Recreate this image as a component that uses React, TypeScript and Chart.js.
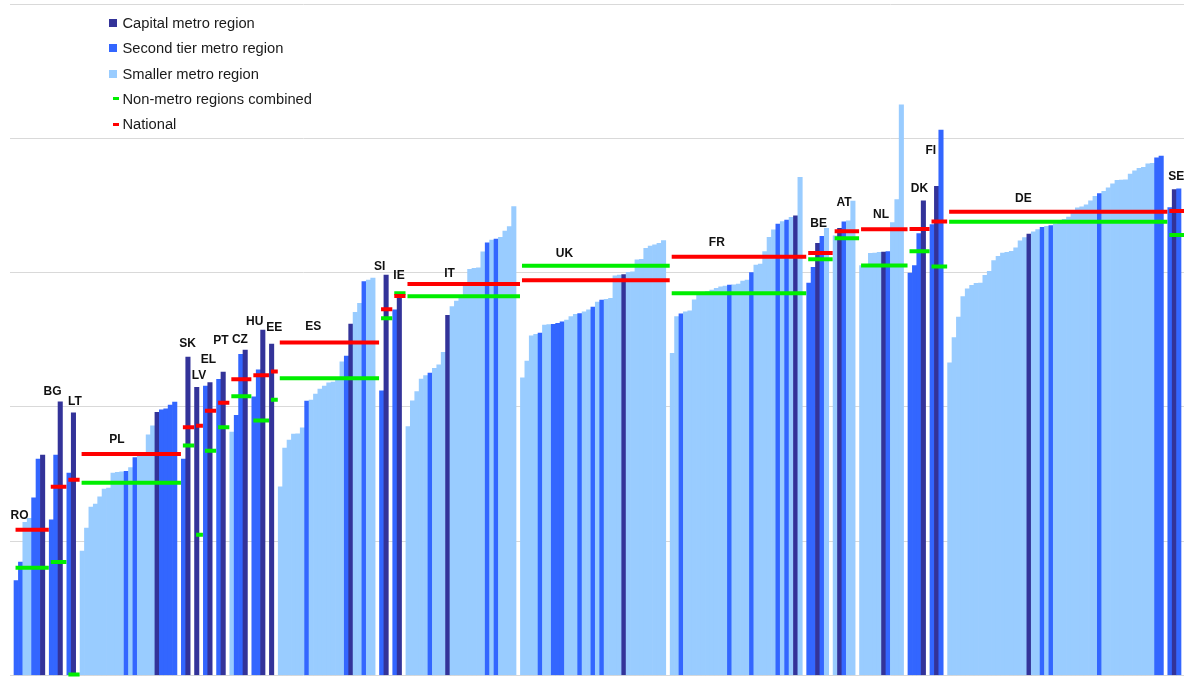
import React, { useEffect, useRef } from "react";
import { Chart, registerables } from "chart.js";

Chart.register(...registerables);

// ---- Data -------------------------------------------------------------
const countries = ["RO", "BG", "LT", "PL", "SK", "LV", "EL", "PT", "CZ", "HU", "EE", "ES", "SI", "IE", "IT", "UK", "FR", "BE", "AT", "NL", "DK", "FI", "DE", "SE"];

// metro region values per country (C = capital, S = second tier, M = smaller metro)
const RO = [35.3, 42.2, 57.0, 58.5, 66.1, 80.6, 82.1];
const RO_T = "SSMMSSC";
const BG = [57.9, 82.1, 101.9];
const BG_T = "SSC";
const LT = [75.4, 97.8];
const LT_T = "SC";
const PL = [46.3, 54.9, 62.7, 63.8, 66.5, 69.4, 69.8, 75.4, 75.6, 75.8, 76.0, 77.4, 81.1, 82.5, 83.0, 89.6, 93.0, 98.0, 98.9, 99.3, 100.7, 101.8];
const PL_T = "MMMMMMMMMMSMSMMMMCSSSS";
const SK = [80.6, 118.6];
const SK_T = "SC";
const LV = [107.3];
const LV_T = "C";
const EL = [107.8, 109.1];
const EL_T = "SC";
const PT = [110.3, 113.0];
const PT_T = "SC";
const CZ = [90.6, 96.9, 119.6, 121.2];
const CZ_T = "MSSC";
const HU = [103.8, 113.8, 128.7];
const HU_T = "SSC";
const EE = [123.4];
const EE_T = "C";
const ES = [70.2, 84.7, 87.7, 89.9, 90.0, 92.2, 102.2, 102.6, 104.8, 106.7, 107.8, 109.0, 109.3, 110.1, 116.8, 119.0, 130.9, 135.3, 138.6, 146.7, 147.3, 148.0];
const ES_T = "MMMMMMSMMMMMMMMSCMMSMM";
const SI = [106.0, 149.2];
const SI_T = "SC";
const IE = [136.2, 141.4];
const IE_T = "SC";
const IT = [92.7, 102.3, 105.7, 110.4, 111.7, 112.6, 114.4, 115.7, 120.4, 134.2, 137.4, 139.5, 141.1, 145.1, 151.3, 151.7, 151.9, 157.8, 161.2, 162.2, 162.6, 163.2, 165.6, 167.2, 174.7];
const IT_T = "MMMMMSMMMCMMMMMMMMSMSMMMM";
const UK = [110.9, 117.1, 126.5, 127.1, 127.5, 130.5, 130.7, 130.8, 131.2, 131.7, 132.4, 133.7, 134.5, 134.8, 135.5, 136.2, 137.2, 139.1, 139.8, 140.1, 140.5, 148.9, 149.2, 149.3, 150.2, 150.4, 154.8, 155.0, 159.1, 160.0, 160.4, 161.0, 162.0];
const UK_T = "MMMMSMMSSSMMMSMMSMSMMMMCMMMMMMMMM";
const FR = [120.0, 133.7, 134.7, 135.5, 135.8, 139.9, 141.7, 142.4, 143.0, 143.6, 144.2, 144.8, 145.1, 145.4, 145.5, 145.8, 146.9, 147.3, 150.1, 152.9, 153.3, 157.9, 163.2, 166.0, 168.2, 169.1, 169.7, 170.7, 171.2, 185.6];
const FR_T = "MMSMMMMMMMMMMSMMMMSMMMMMSMSMCM";
const BE = [146.2, 152.0, 161.0, 163.6, 166.6];
const BE_T = "SSCSM";
const AT = [163.8, 166.6, 169.0, 169.4, 176.7];
const AT_T = "MCSMM";
const NL = [152.7, 152.8, 157.3, 157.4, 157.6, 157.7, 157.9, 168.7, 177.3, 212.6];
const NL_T = "MMMMMCSMMM";
const DK = [149.9, 152.7, 164.6, 176.8];
const DK_T = "SSSC";
const FI = [168.0, 182.2, 203.2];
const FI_T = "SCS";
const DE = [116.5, 125.9, 133.5, 141.1, 144.0, 145.3, 146.1, 146.2, 149.1, 150.6, 154.6, 156.1, 157.4, 157.6, 158.0, 159.3, 161.9, 163.1, 164.4, 165.3, 166.1, 167.0, 167.3, 167.6, 168.2, 168.9, 169.9, 170.8, 172.7, 174.2, 174.6, 175.3, 176.8, 178.5, 179.5, 180.4, 181.7, 183.2, 184.5, 184.6, 184.7, 186.8, 188.0, 188.9, 189.3, 190.6, 190.8, 192.9, 193.5];
const DE_T = "MMMMMMMMMMMMMMMMMMCMMSMSMMMMMMMMMMSMMMMMMMMMMMMSS";
const SE = [174.3, 181.0, 181.3];
const SE_T = "SCS";

const groups = [RO, BG, LT, PL, SK, LV, EL, PT, CZ, HU, EE, ES, SI, IE, IT, UK, FR, BE, AT, NL, DK, FI, DE, SE];
const groupTypes = [RO_T, BG_T, LT_T, PL_T, SK_T, LV_T, EL_T, PT_T, CZ_T, HU_T, EE_T, ES_T, SI_T, IE_T, IT_T, UK_T, FR_T, BE_T, AT_T, NL_T, DK_T, FI_T, DE_T, SE_T];

const national = [54.2, 70.3, 72.9, 82.5, 92.4, 93.0, 98.6, 101.6, 110.3, 111.8, 113.2, 124.0, 136.4, 141.4, 145.8, 147.2, 156.0, 157.4, 165.5, 166.2, 166.3, 169.1, 172.8, 173.0];
const nonMetro = [40.1, 42.2, 0.3, 71.8, 85.6, 52.4, 83.7, 92.4, 104.0, 95.0, 102.7, 110.7, 133.1, 142.4, 141.3, 152.6, 142.4, 155.1, 162.9, 152.7, 158.0, 152.4, 169.0, 164.1];

// country label anchors (x in slot units, y in value units)
const labelSlot = [0.75, 8.24, 13.35, 22.89, 38.9, 41.5, 43.66, 46.5, 50.8, 54.16, 58.6, 67.46, 82.54, 86.92, 98.39, 124.5, 159.1, 182.2, 188.0, 196.4, 205.1, 207.7, 228.7, 263.4];
const labelValue = [59.5, 105.6, 101.9, 87.8, 123.6, 111.8, 117.7, 124.6, 125.1, 131.7, 129.4, 130.1, 152.1, 149.1, 149.6, 157.3, 161.2, 168.3, 176.0, 171.5, 181.3, 195.5, 177.8, 185.7];

const legendLabels = ["Capital metro region", "Second tier metro region", "Smaller metro region", "Non-metro regions combined", "National"];

// ---- Styles -----------------------------------------------------------
const TYPE_COLOR: Record<string, string> = { C: "#333399", S: "#3366ff", M: "#99ccff" };
const NAT_COLOR = "#ff0000";
const NONMETRO_COLOR = "#00ee00";
const FONT = "'Liberation Sans', Arial, Helvetica, sans-serif";

export default function App() {
  const canvasRef = useRef<HTMLCanvasElement | null>(null);

  useEffect(() => {
    const bars: { x: number; y: number }[] = [];
    const colors: string[] = [];
    const natData: { x: number; y: number | null }[] = [];
    const nonData: { x: number; y: number | null }[] = [];
    let pos = 0;
    groups.forEach((vals, g) => {
      const start = pos;
      vals.forEach((v, k) => {
        bars.push({ x: pos + k, y: v });
        colors.push(TYPE_COLOR[groupTypes[g][k]]);
      });
      const end = start + vals.length - 1;
      const a = start - 0.15;
      const b = end + 1.4;
      natData.push({ x: a, y: national[g] }, { x: b, y: national[g] }, { x: b, y: null });
      nonData.push({ x: a, y: nonMetro[g] }, { x: b, y: nonMetro[g] }, { x: b, y: null });
      pos += vals.length + 1;
    });
    const totalSlots = pos - 1;
    const unit = 1167 / totalSlots;
    const xMin = -0.5 - 4 / unit;
    const xMax = totalSlots - 0.5 + 3 / unit;

    const labelPlugin = {
      id: "countryLabels",
      afterDatasetsDraw(chart: any) {
        const { ctx } = chart;
        const xs = chart.scales.x;
        const ys = chart.scales.y;
        ctx.save();
        ctx.font = `bold 12px ${FONT}`;
        ctx.fillStyle = "#111111";
        ctx.textAlign = "center";
        ctx.textBaseline = "middle";
        countries.forEach((c, i) => {
          ctx.fillText(c, xs.getPixelForValue(labelSlot[i]), ys.getPixelForValue(labelValue[i]));
        });
        ctx.restore();
      },
    };

    const chart = new Chart(canvasRef.current as HTMLCanvasElement, {
      type: "bar",
      data: {
        datasets: [
          {
            type: "line",
            label: "National",
            data: natData as any,
            borderColor: NAT_COLOR,
            backgroundColor: NAT_COLOR,
            borderWidth: 4,
            borderCapStyle: "butt",
            pointRadius: 0,
            spanGaps: false,
            order: 0,
            clip: 6,
          } as any,
          {
            type: "line",
            label: "Non-metro regions combined",
            data: nonData as any,
            borderColor: NONMETRO_COLOR,
            backgroundColor: NONMETRO_COLOR,
            borderWidth: 4,
            borderCapStyle: "butt",
            pointRadius: 0,
            spanGaps: false,
            order: 1,
            clip: 6,
          } as any,
          {
            type: "bar",
            label: "Metro regions",
            data: bars as any,
            backgroundColor: colors,
            borderWidth: 0,
            barPercentage: 1,
            categoryPercentage: 1,
            order: 2,
          } as any,
        ],
      },
      options: {
        animation: false,
        responsive: false,
        maintainAspectRatio: false,
        layout: { padding: { left: 10, right: 0, top: 4.5, bottom: 1.7 } },
        plugins: { legend: { display: false }, tooltip: { enabled: false } },
        scales: {
          x: {
            type: "linear",
            min: xMin,
            max: xMax,
            offset: false,
            display: false,
            grid: { display: false, offset: false },
          },
          y: {
            min: 0,
            max: 250,
            ticks: { display: false, stepSize: 50 },
            grid: { color: "#d9d9d9", lineWidth: 1, drawTicks: false },
            border: { display: false },
          },
        },
      } as any,
      plugins: [labelPlugin],
    });
    return () => chart.destroy();
  }, []);

  const rowH = 25.2;
  return (
    <div style={{ position: "absolute", left: 0, top: 0, width: 1184, height: 677, background: "#ffffff" }}>
      <canvas ref={canvasRef} width={1184} height={677} style={{ display: "block" }} />
      <div style={{ position: "absolute", left: 109, top: 10.7, fontFamily: FONT, fontSize: 14.7, color: "#1a1a1a" }}>
        {legendLabels.map((lab, i) => (
          <div key={lab} style={{ height: rowH, display: "flex", alignItems: "center", whiteSpace: "nowrap" }}>
            <span style={{ position: "relative", width: 13.5, height: 8, display: "inline-block" }}>
              {i < 3 ? (
                <span style={{ position: "absolute", left: 0, top: 0, width: 8, height: 8, background: TYPE_COLOR["CSM"[i]] }} />
              ) : (
                <span style={{ position: "absolute", left: 4, top: 2.5, width: 5.5, height: 3, background: i === 3 ? NONMETRO_COLOR : NAT_COLOR }} />
              )}
            </span>
            <span>{lab}</span>
          </div>
        ))}
      </div>
    </div>
  );
}
